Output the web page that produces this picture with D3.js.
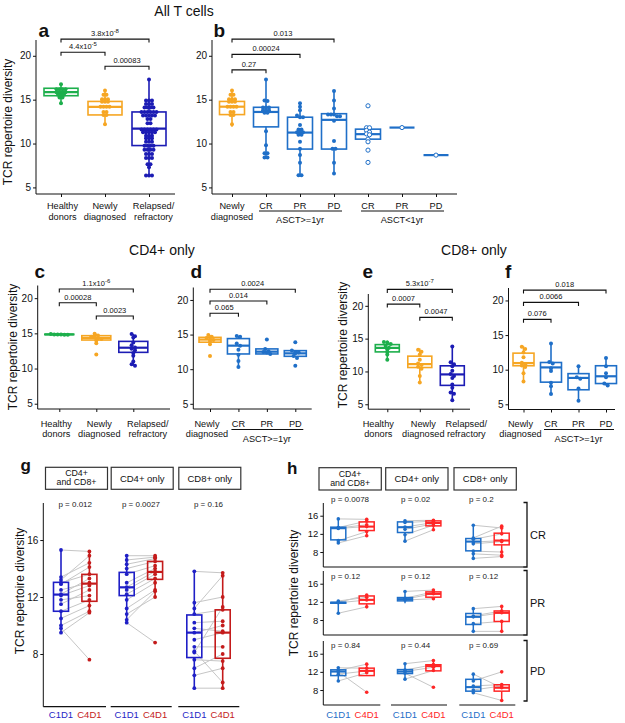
<!DOCTYPE html>
<html><head><meta charset="utf-8">
<script src="https://cdn.jsdelivr.net/npm/d3@7"></script>
<style>body{margin:0;background:#fff} svg{font-family:"Liberation Sans",Arial,sans-serif}</style>
</head><body><svg id="c" width="625" height="723"></svg>
<script>
// ---------------- DATA ----------------
const yTicks = [5, 10, 15, 20];
const yTicksPaired = [8, 12, 16];

// a: All T cells
const catsA = ["Healthy\ndonors", "Newly\ndiagnosed", "Relapsed/\nrefractory"];
const boxA = [[14.6,15.45,15.85,16.3,16.75],[12.2,13.26,14.17,14.8,16.05],[6.35,9.77,11.7,13.6,17.35]];
const ptsA = [
  [16.75,16.2,16.2,16.2,16.2,15.85,15.85,15.85,15.85,15.55,15.55,15.55,15.25,15.25,14.6],
  [16.05,15.55,15.55,15.05,15.05,15.05,14.75,14.75,14.75,14.2,14.2,14.2,14.2,13.6,13.6,13.25,13.25,12.2],
  [17.3,14.9,14.9,14.9,14.5,14.5,14.5,14.1,14.1,14.1,14.1,13.6,13.6,13.6,13.6,13.6,13.6,13.2,13.2,13.2,13.2,13.2,
   12.8,12.8,12.3,12.3,11.6,11.6,11.6,11.6,11.6,11.6,11.3,11.3,11.3,11.3,11.3,10.9,10.9,10.9,10.6,10.6,10.6,
   10.2,10.2,10.2,9.75,9.75,9.75,9.75,9.3,9.3,9.3,9.3,8.8,8.8,8.8,8.35,8.35,8.35,7.65,7.65,7.3,6.35,6.35,6.35]
];
const sigA = [[0,2,21.9,"3.8x10^-8"],[0,1,20.4,"4.4x10^-5"],[1,2,18.8,"0.00083"]];

// b: All T cells by response
const catsB = ["Newly\ndiagnosed","CR","PR","PD","CR","PR","PD"];
const boxB = [[11.9,13.3,14.2,14.8,16.0],[8.4,11.9,13.6,14.13,17.4],[6.25,9.37,11.25,13.0,14.6],[6.56,9.37,12.7,13.4,16.0],[10.2,10.5,11.07,11.64,11.8],[11.82,11.82,11.82,11.82,11.82],[8.68,8.68,8.68,8.68,8.68]];
const ptsB = [
  [16.05,15.55,15.55,15.05,15.05,15.05,14.75,14.75,14.75,14.2,14.2,14.2,14.2,13.6,13.6,13.25,13.25,12.2],
  [17.3,14.9,14.85,14.1,14.1,14.1,13.8,13.8,13.8,13.5,13.5,11.4,9.8,8.9,8.9,8.4,8.4],
  [14.6,14.2,13.8,13.2,13.0,13.0,12.1,11.6,11.6,11.3,11.3,11.3,11.0,11.0,10.2,9.4,8.7,7.8,6.4,6.4],
  [16.0,14.9,14.0,13.3,13.3,13.3,13.1,13.1,12.6,10.3,9.4,9.4,7.8,6.6],
  [14.3,11.8,11.8,11.5,11.3,11.1,11.0,10.5,10.2,9.25,7.85],
  [11.82],
  [8.68]
];
const sigB = [[0,3,21.9,"0.013"],[0,2,20.16,"0.00024"],[0,1,18.4,"0.27"]];
const groupsB = [[1,3,"ASCT>=1yr"],[4,6,"ASCT<1yr"]];

// c: CD4+ only
const boxC = [[14.8,14.82,14.85,14.88,14.9],[13.6,14.05,14.34,14.67,14.95],[10.4,12.3,12.96,13.86,14.9]];
const ptsC = [
  [14.9,14.85,14.85,14.8,14.8,14.85],
  [14.95,14.7,14.5,14.4,14.3,14.2,14.0,13.6,12.0],
  [14.9,14.6,14.4,13.7,13.3,13.0,12.8,12.6,12.2,11.8,11.0,10.6,10.4]
];
const sigC = [[0,2,21.3,"1.1x10^-6"],[0,1,19.35,"0.00028"],[1,2,17.46,"0.0023"]];

// d: CD4+ only by response
const catsD = ["Newly\ndiagnosed","CR","PR","PD"];
const boxD = [[13.6,13.9,14.28,14.6,14.95],[10.3,12.2,13.4,14.42,14.8],[12.2,12.2,12.53,12.93,13.0],[11.86,11.86,12.29,12.68,12.7]];
const ptsD = [
  [14.95,14.7,14.5,14.3,14.2,14.0,13.6,11.9],
  [14.8,14.7,13.7,13.4,12.8,12.1,11.2,10.3],
  [14.3,12.9,12.6,12.5,12.4,12.2],
  [13.9,12.7,12.5,12.4,12.3,11.9,11.6,10.5]
];
const sigD = [[0,3,21.55,"0.0024"],[0,2,19.86,"0.014"],[0,1,18.08,"0.065"]];
const groupsD = [[1,3,"ASCT>=1yr"]];

// e: CD8+ only
const boxE = [[11.77,12.98,13.59,14.09,14.7],[8.33,10.6,11.12,12.33,13.5],[5.6,7.88,9.55,10.86,13.9]];
const ptsE = [
  [14.5,14.4,14.2,13.9,13.6,13.4,13.0,12.6,11.8],
  [13.3,13.0,12.6,11.8,11.2,11.0,10.7,10.4,9.3,8.3],
  [13.8,11.4,11.1,10.8,10.1,9.6,9.3,9.0,8.0,7.5,6.8,6.6,5.6]
];
const sigE = [[0,2,22.5,"5.3x10^-7"],[0,1,20.26,"0.0007"],[1,2,18.24,"0.0047"]];

// f: CD8+ only by response
const boxF = [[8.33,10.57,10.96,12.39,13.4],[6.57,8.2,10.33,11.04,14.0],[5.61,7.1,8.81,9.43,10.57],[7.7,8.0,9.05,10.57,11.8]];
const ptsF = [
  [13.3,13.0,12.5,11.8,11.0,10.8,10.6,10.4,9.5,8.3],
  [13.8,11.1,10.9,10.2,9.8,8.1,7.6,6.5],
  [10.5,8.9,8.7,7.3,5.5],
  [11.7,10.5,9.5,8.9,8.0,7.7]
];
const sigF = [[0,3,21.5,"0.018"],[0,2,19.72,"0.0066"],[0,1,17.27,"0.076"]];

// g: paired C1D1 vs C4D1
const facets = ["CD4+\nand CD8+", "CD4+ only", "CD8+ only"];
const timepoints = ["C1D1", "C4D1"];
const gC1 = [
  [15.3,13.4,13.2,13.0,12.9,12.5,12.2,12.1,11.8,11.5,11.0,10.5,10.0,9.8,9.5],
  [14.9,14.6,14.3,14.0,13.6,13.0,12.7,12.5,12.2,11.8,11.2,10.8,10.4,10.2],
  [13.8,11.6,11.2,10.8,10.2,9.8,9.5,9.0,8.5,8.2,8.1,7.6,7.0,6.5,5.6]
];
const gC4 = [
  [15.2,14.4,14.9,13.6,14.1,13.0,13.3,12.8,12.1,12.5,11.8,11.4,11.0,7.6,10.9],
  [14.9,14.8,14.7,14.5,14.2,14.0,13.8,13.6,13.3,13.0,12.5,12.0,12.4,8.8],
  [13.7,12.0,13.5,11.1,10.3,9.6,10.0,9.5,8.5,6.0,11.3,7.5,8.0,7.0,5.6]
];
const gBox1 = [[9.5,11.0,12.17,13.03,15.28],[10.25,12.1,12.68,13.73,14.9],[5.56,7.75,9.5,10.74,13.82]];
const gBox4 = [[10.95,11.7,12.94,13.59,15.28],[12.03,13.24,13.76,14.5,14.9],[5.56,7.7,9.5,11.1,13.7]];
const gP = ["p = 0.012", "p = 0.0027", "p = 0.16"];

// h: paired by response
const rowsH = ["CR", "PR", "PD"];
const hC1 = [
  [[15.3,13.4,13.3,13.2,10.5,10.0],[14.9,14.5,13.5,13.0,11.8,10.4],[13.9,11.1,10.8,10.2,9.8,8.2,7.6,6.6]],
  [[12.2,11.9,11.8,9.5],[14.3,12.8,12.6,12.4],[10.5,8.9,8.7,7.2,5.5]],
  [[12.9,12.3,12.0,11.5,10.0],[13.8,12.4,12.1,11.7,10.4],[11.5,10.0,8.9,8.0,7.4]]
];
const hC4 = [
  [[15.2,14.8,14.0,13.6,12.5,11.6],[15.0,14.8,14.5,14.2,13.9,12.9],[13.3,13.7,12.0,10.5,10.3,8.0,7.3,7.0]],
  [[13.0,13.5,12.4,10.9],[14.6,14.2,13.8,12.7],[11.0,10.0,9.6,7.7,5.5]],
  [[12.8,13.7,7.5,12.2,11.8],[14.5,13.6,13.0,8.6,12.3],[8.5,12.0,9.2,8.9,5.7]]
];
const hBox1 = [
  [[10.1,10.68,13.25,13.47,15.37],[10.46,12.3,13.47,14.64,15.08],[6.65,8.26,10.3,10.97,14.05]],
  [[9.58,11.7,11.8,11.9,12.3],[11.7,12.22,12.6,12.95,14.42],[5.55,7.02,8.7,9.44,10.6]],
  [[9.84,11.18,12.07,12.45,12.97],[10.36,11.63,12.07,12.5,13.87],[7.3,7.75,8.64,10.36,11.48]]
];
const hBox4 = [
  [[11.6,12.73,13.6,14.64,15.37],[12.9,13.76,14.4,14.86,15.2],[7.0,9.58,10.53,12.15,13.9]],
  [[10.9,11.56,12.44,13.3,13.6],[12.6,13.03,13.76,14.2,14.7],[5.55,7.68,9.58,10.0,11.2]],
  [[11.18,11.18,12.22,12.82,13.64],[12.22,12.22,13.27,13.57,14.46],[5.66,7.75,8.5,9.16,9.2]]
];
const hP = [["p = 0.0078","p = 0.02","p = 0.2"],["p = 0.12","p = 0.12","p = 0.12"],["p = 0.84","p = 0.44","p = 0.69"]];

// ---------------- STYLE ----------------
const C = {green:"#1daf4c", orange:"#f6a623", navy:"#1c1cb4", blue:"#1f6fc8",
           gblue:"#1f1fc6", gred:"#c41b1b", hred:"#ff2626", gray:"#c6c6c6", ink:"#111"};
const svg = d3.select("#c");

function txt(g, x, y, s, o = {}) {
  const t = g.append("text").attr("x", x).attr("y", y).text(s)
    .attr("font-size", o.size || 10).attr("fill", o.fill || C.ink)
    .attr("text-anchor", o.anchor || "middle");
  if (o.weight) t.attr("font-weight", o.weight);
  return t;
}
function multiline(g, x, y, s, lh, o) { s.split("\n").forEach((l, i) => txt(g, x, y + i * lh, l, o)); }
function sigLabel(g, x, y, s) {
  const parts = s.split("^");
  const t = g.append("text").attr("x", x).attr("y", y).attr("text-anchor", "middle")
    .attr("font-size", 7.5).attr("fill", C.ink);
  t.append("tspan").text(parts[0]);
  if (parts[1]) t.append("tspan").attr("dy", -3).attr("font-size", 6).text(parts[1]);
}
function ytitle(x, y, size) {
  svg.append("text").attr("transform", `translate(${x},${y}) rotate(-90)`)
    .attr("text-anchor", "middle").attr("font-size", size || 12).attr("fill", C.ink)
    .text("TCR repertoire diversity");
}
function styleAxis(ax, size) {
  ax.selectAll("path,line").attr("stroke", C.ink);
  ax.selectAll("text").attr("font-size", size).attr("fill", C.ink)
    .attr("font-family", '"Liberation Sans",Arial,sans-serif');
}
function drawBox(g, cx, bw, st, y, col, sw) {
  const [lo, q1, md, q3, hi] = st;
  g.append("line").attr("x1", cx).attr("x2", cx).attr("y1", y(lo)).attr("y2", y(q1)).attr("stroke", col).attr("stroke-width", sw);
  g.append("line").attr("x1", cx).attr("x2", cx).attr("y1", y(q3)).attr("y2", y(hi)).attr("stroke", col).attr("stroke-width", sw);
  g.append("rect").attr("x", cx - bw / 2).attr("y", y(q3)).attr("width", bw).attr("height", Math.max(0, y(q1) - y(q3)))
    .attr("fill", "none").attr("stroke", col).attr("stroke-width", sw);
  g.append("line").attr("x1", cx - bw / 2).attr("x2", cx + bw / 2).attr("y1", y(md)).attr("y2", y(md)).attr("stroke", col).attr("stroke-width", sw + 0.6);
}
function swarm(vals, y, cx, binH, dx) {
  const it = vals.map(v => ({v, py: y(v)})).sort((a, b) => a.py - b.py);
  const out = []; let bin = []; let start = null;
  const flush = () => { const n = bin.length; bin.forEach((d, i) => out.push({x: cx + (i - (n - 1) / 2) * dx, y: d.py})); bin = []; };
  it.forEach(d => { if (start === null || d.py - start > binH) { if (bin.length) flush(); start = d.py; } bin.push(d); });
  if (bin.length) flush();
  return out;
}

// ---------------- TOP PANELS ----------------
const yDom = [4.25, 21.8];
function drawPanel(p) {
  const g = svg.append("g");
  const y = d3.scaleLinear().domain(yDom).range([p.yB, p.yT]);
  const x = d3.scalePoint().domain(d3.range(p.cats.length)).range([p.c0, p.c1]);
  const ay = g.append("g").attr("transform", `translate(${p.x0},0)`)
    .call(d3.axisLeft(y).tickValues(yTicks).tickSize(3).tickSizeOuter(0).tickPadding(2));
  ay.select(".domain").attr("d", `M0,${p.yT}V${p.yB}`);
  styleAxis(ay, 10);
  const ax = g.append("g").attr("transform", `translate(0,${p.yB})`)
    .call(d3.axisBottom(x).tickSize(3).tickFormat(""));
  ax.select(".domain").remove();
  styleAxis(ax, 10);
  g.append("line").attr("x1", p.x0).attr("x2", p.x1).attr("y1", p.yB).attr("y2", p.yB).attr("stroke", C.ink);
  p.cats.forEach((c, i) => {
    const col = p.colors[i], cx = x(i), hollow = p.hollow.includes(i);
    drawBox(g, cx, p.bw, p.box[i], y, col, 1.6);
    const pts = swarm(p.pts[i], y, cx, 2.4, p.dx || 3.4);
    g.selectAll(null).data(pts).join("circle")
      .attr("cx", d => d.x).attr("cy", d => d.y).attr("r", hollow ? 2.1 : 2)
      .attr("fill", hollow ? "#fff" : col).attr("stroke", col).attr("stroke-width", hollow ? 1 : 0);
    const lx = cx + (p.labDx ? p.labDx[i] : 0);
    multiline(g, lx, p.lab, c, 10.5, {size: 9.2});
  });
  p.sig.forEach(([a, b, v, l]) => {
    const yy = y(v), xa = x(a), xb = x(b);
    g.append("path").attr("d", `M${xa},${yy + 3.5}V${yy}H${xb}V${yy + 3.5}`)
      .attr("fill", "none").attr("stroke", C.ink).attr("stroke-width", 1.1);
    sigLabel(g, (xa + xb) / 2, yy - 3, l);
  });
  (p.groups || []).forEach(([a, b, l]) => {
    g.append("line").attr("x1", x(a) - 7).attr("x2", x(b) + 8).attr("y1", p.ul).attr("y2", p.ul).attr("stroke", C.ink);
    txt(g, (x(a) + x(b)) / 2, p.ul + 12, l, {size: 9.2});
  });
  txt(g, p.lx, p.ly, p.letter, {size: p.lsize || 19, weight: "bold", anchor: "start"});
}
const respCols = [C.orange, C.blue, C.blue, C.blue];
drawPanel({cats: catsA, box: boxA, pts: ptsA, sig: sigA, colors: [C.green, C.orange, C.navy], hollow: [], dx: 3,
  x0: 36, x1: 175, yT: 40, yB: 194, c0: 61, c1: 149, bw: 34, lab: 209, labDx: [1.5, 0, 4.5], letter: "a", lx: 38.5, ly: 36.5});
drawPanel({cats: catsB, box: boxB, pts: ptsB, sig: sigB, colors: [C.orange, C.blue, C.blue, C.blue, C.blue, C.blue, C.blue], hollow: [4, 5, 6], dx: 3,
  x0: 212, x1: 457, yT: 40, yB: 194, c0: 232, c1: 436, bw: 25, lab: 209, groups: groupsB, ul: 211, letter: "b", lx: 213.5, ly: 36.5});
drawPanel({cats: catsA, box: boxC, pts: ptsC, sig: sigC, colors: [C.green, C.orange, C.navy], hollow: [],
  x0: 37.7, x1: 170, yT: 285.5, yB: 409, c0: 59.3, c1: 133.3, bw: 29, lab: 426.5, labDx: [-3, 3, 14.5], letter: "c", lx: 34.5, ly: 277.5});
drawPanel({cats: catsD, box: boxD, pts: ptsD, sig: sigD, colors: respCols, hollow: [],
  x0: 193.3, x1: 311.7, yT: 287.5, yB: 409, c0: 210, c1: 295.3, bw: 22, lab: 426.5, labDx: [-3, 0, 0, 0], groups: groupsD, ul: 429.5, letter: "d", lx: 190.5, ly: 277.5});
drawPanel({cats: catsA, box: boxE, pts: ptsE, sig: sigE, colors: [C.green, C.orange, C.navy], hollow: [],
  x0: 368.3, x1: 470, yT: 294, yB: 409.2, c0: 387.3, c1: 452.3, bw: 24, lab: 426.5, labDx: [-9, 3.5, 14], letter: "e", lx: 362.5, ly: 277.5});
drawPanel({cats: catsD, box: boxF, pts: ptsF, sig: sigF, colors: respCols, hollow: [],
  x0: 508.5, x1: 615, yT: 288, yB: 409.5, c0: 523.5, c1: 606, bw: 21, lab: 426.5, labDx: [-3, 0, 0, 0], groups: groupsD, ul: 429.5, letter: "f", lx: 505, ly: 277.5});

txt(svg, 184, 16, "All T cells", {size: 14});
txt(svg, 162, 255, "CD4+ only", {size: 14});
txt(svg, 474, 255, "CD8+ only", {size: 14});
ytitle(12, 122);
ytitle(16.5, 347);
ytitle(346.5, 345);

// ---------------- PANEL G ----------------
(function () {
  const g = svg.append("g");
  const y = d3.scaleLinear().domain([4.3, 18.6]).range([706.7, 503]);
  const c1x = [61, 126.7, 194.3];
  const ay = g.append("g").attr("transform", "translate(43.3,0)")
    .call(d3.axisLeft(y).tickValues(yTicksPaired).tickSize(3).tickSizeOuter(0).tickPadding(2));
  ay.select(".domain").attr("d", "M0,503V706.7");
  styleAxis(ay, 10);
  facets.forEach((f, k) => {
    const x = d3.scalePoint().domain(timepoints).range([c1x[k], c1x[k] + 28.4]);
    const xa = x("C1D1"), xb = x("C4D1");
    g.append("line").attr("x1", k === 0 ? 43.3 : xa - 16).attr("x2", xa + 45).attr("y1", 706.7).attr("y2", 706.7).attr("stroke", C.ink).attr("stroke-width", 1.2);
    g.append("rect").attr("x", xa - 15.5).attr("y", 467.3).attr("width", 62).attr("height", 22)
      .attr("fill", "#fff").attr("stroke", "#333").attr("stroke-width", 1.2);
    const lines = f.split("\n");
    if (lines.length > 1) multiline(g, xa + 15.5, 476.3, f, 9, {size: 8.8});
    else txt(g, xa + 15.5, 482, f, {size: 9.5});
    txt(g, (xa + xb) / 2, 507, gP[k], {size: 8, fill: "#222"});
    gC1[k].forEach((v, i) => g.append("line").attr("x1", xa).attr("x2", xb).attr("y1", y(v)).attr("y2", y(gC4[k][i]))
      .attr("stroke", C.gray).attr("stroke-width", 1));
    drawBox(g, xa, 15, gBox1[k], y, C.gblue, 1.6);
    drawBox(g, xb, 15, gBox4[k], y, C.gred, 1.6);
    g.selectAll(null).data(gC1[k]).join("circle").attr("cx", xa).attr("cy", d => y(d)).attr("r", 1.9).attr("fill", C.gblue);
    g.selectAll(null).data(gC4[k]).join("circle").attr("cx", xb).attr("cy", d => y(d)).attr("r", 1.9).attr("fill", C.gred);
    txt(g, xa, 718, "C1D1", {size: 9.5, fill: C.gblue});
    txt(g, xb, 718, "C4D1", {size: 9.5, fill: C.gred});
  });
  txt(g, 20.5, 470.5, "g", {size: 17, weight: "bold", anchor: "start"});
})();
ytitle(24, 591);

// ---------------- PANEL H ----------------
(function () {
  const g = svg.append("g");
  const rowTop = [503, 571, 641], rowH = 64;
  const c1x = [338.3, 405, 473.3];
  const pLeft = [331, 401, 469], pBase = [502, 579, 647.5];
  facets.forEach((f, k) => {
    const xa = c1x[k];
    g.append("rect").attr("x", xa - 19.3).attr("y", 467.7).attr("width", 62.3).attr("height", 22.3)
      .attr("fill", "#fff").attr("stroke", "#333").attr("stroke-width", 1.2);
    const lines = f.split("\n");
    if (lines.length > 1) multiline(g, xa + 11.8, 476.5, f, 9, {size: 8.8});
    else txt(g, xa + 11.8, 482, f, {size: 9.5});
  });
  rowsH.forEach((r, ri) => {
    const top = rowTop[ri], bot = top + rowH;
    const y = d3.scaleLinear().domain([4.7, 18.8]).range([bot, top]);
    const ay = g.append("g").attr("transform", "translate(323.3,0)")
      .call(d3.axisLeft(y).tickValues(yTicksPaired).tickSize(3).tickSizeOuter(0).tickPadding(2));
    ay.select(".domain").attr("d", `M0,${top}V${bot}`);
    styleAxis(ay, 9.5);
    if (ri < 2) {
      g.append("line").attr("x1", 323.3).attr("x2", 524).attr("y1", bot).attr("y2", bot).attr("stroke", C.ink).attr("stroke-width", 1.2);
    }
    const bTop = top - 0.5, bBot = ri < 2 ? bot : bot - 4;
    g.append("path").attr("d", `M523.5,${bTop}H527V${bBot}H523.5`).attr("fill", "none").attr("stroke", C.ink).attr("stroke-width", 1.3);
    txt(g, 530, (bTop + bBot) / 2 + 4, r, {size: 11, anchor: "start"});
    facets.forEach((f, k) => {
      const x = d3.scalePoint().domain(timepoints).range([c1x[k], c1x[k] + 28.4]);
      const xa = x("C1D1"), xb = x("C4D1");
      if (ri === 2) {
        g.append("line").attr("x1", k === 0 ? 323.3 : xa - 14).attr("x2", xa + 42).attr("y1", bot).attr("y2", bot).attr("stroke", C.ink).attr("stroke-width", 1.2);
      }
      txt(g, pLeft[k], pBase[ri], hP[ri][k], {size: 8, fill: "#222", anchor: "start"});
      hC1[ri][k].forEach((v, i) => g.append("line").attr("x1", xa).attr("x2", xb).attr("y1", y(v)).attr("y2", y(hC4[ri][k][i]))
        .attr("stroke", C.gray).attr("stroke-width", 1));
      drawBox(g, xa, 15, hBox1[ri][k], y, C.blue, 1.5);
      drawBox(g, xb, 15, hBox4[ri][k], y, C.hred, 1.5);
      g.selectAll(null).data(hC1[ri][k]).join("circle").attr("cx", xa).attr("cy", d => y(d)).attr("r", 1.8).attr("fill", C.blue);
      g.selectAll(null).data(hC4[ri][k]).join("circle").attr("cx", xb).attr("cy", d => y(d)).attr("r", 1.8).attr("fill", C.hred);
      if (ri === 2) {
        txt(g, xa, 718, "C1D1", {size: 9.5, fill: C.blue});
        txt(g, xb, 718, "C4D1", {size: 9.5, fill: C.hred});
      }
    });
  });
  txt(g, 287, 473.5, "h", {size: 17, weight: "bold", anchor: "start"});
})();
ytitle(298, 593);
</script></body></html>
